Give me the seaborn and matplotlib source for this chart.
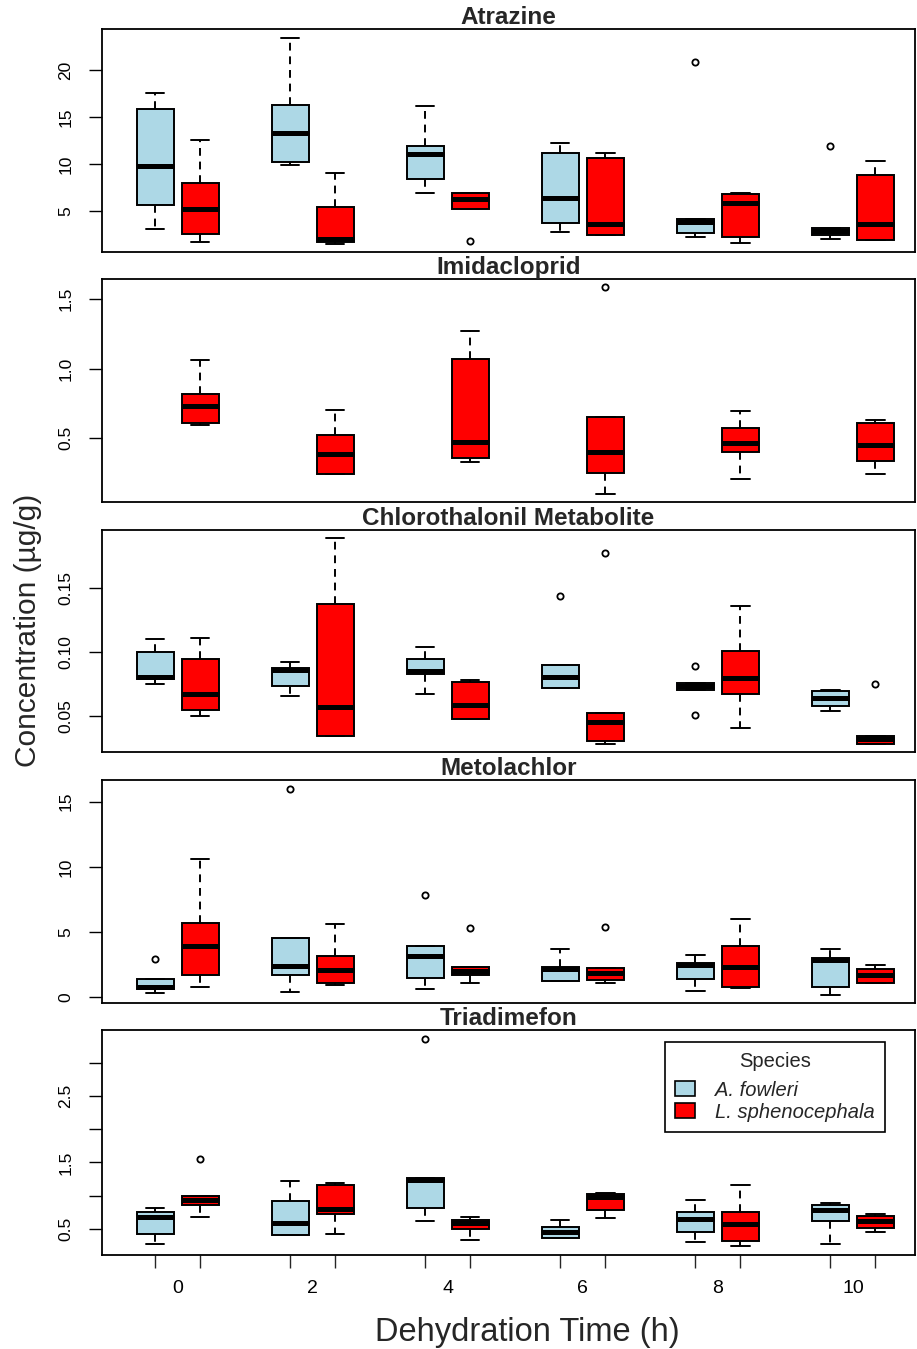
import numpy as np
import pandas as pd
import seaborn as sns
from matplotlib import pyplot as plt

# dehydration times (h) and species
times = [0, 2, 4, 6, 8, 10]
species = ['A. fowleri', 'L. sphenocephala']
compounds = ['Atrazine', 'Imidacloprid', 'Chlorothalonil Metabolite', 'Metolachlor', 'Triadimefon']

# concentrations (ug/g), one list of samples per time
atrazine_fowleri = [
    [3.1, 4.4, 5.6, 7.9, 9.8, 12.6, 15.9, 16.8, 17.6],
    [9.9, 10.0, 10.2, 11.8, 13.3, 14.9, 16.3, 19.7, 23.4],
    [6.9, 7.6, 8.4, 10.2, 11.1, 11.5, 11.9, 13.8, 16.2],
    [2.8, 3.2, 3.7, 5.1, 6.4, 9.0, 11.2, 11.7, 12.2],
    [2.2, 2.5, 2.7, 3.4, 3.8, 4.0, 4.2, 4.2, 20.9],
    [2.0, 2.2, 2.4, 2.7, 2.9, 3.0, 3.2, 3.2, 11.9],
]
atrazine_spheno = [
    [1.7, 2.1, 2.6, 3.9, 5.25, 6.5, 8.0, 10.1, 12.5],
    [1.5, 1.6, 1.7, 1.9, 2.0, 3.6, 5.4, 7.1, 9.0],
    [1.8, 5.2, 5.2, 5.8, 6.3, 6.6, 6.95, 6.95, 6.95],
    [2.4, 2.45, 2.5, 3.0, 3.6, 7.2, 10.6, 10.9, 11.2],
    [1.6, 1.9, 2.2, 4.1, 5.8, 6.3, 6.8, 6.9, 6.95],
    [1.9, 1.9, 1.9, 2.7, 3.6, 6.1, 8.8, 9.6, 10.3],
]
imidacloprid_fowleri = [[], [], [], [], [], []]
imidacloprid_spheno = [
    [0.593, 0.60, 0.607, 0.67, 0.731, 0.78, 0.819, 0.94, 1.062],
    [0.245, 0.245, 0.245, 0.31, 0.388, 0.45, 0.521, 0.61, 0.705],
    [0.331, 0.345, 0.357, 0.41, 0.471, 0.78, 1.071, 1.17, 1.269],
    [0.102, 0.18, 0.248, 0.33, 0.405, 0.53, 0.652, 0.652, 1.583],
    [0.209, 0.31, 0.405, 0.43, 0.464, 0.52, 0.576, 0.64, 0.693],
    [0.245, 0.29, 0.338, 0.40, 0.452, 0.53, 0.607, 0.62, 0.633],
]
chloro_fowleri = [
    [0.0745, 0.077, 0.0787, 0.0796, 0.0805, 0.09, 0.0995, 0.105, 0.110],
    [0.0654, 0.069, 0.0732, 0.080, 0.086, 0.0868, 0.0875, 0.090, 0.0922],
    [0.0667, 0.075, 0.0823, 0.0838, 0.0852, 0.089, 0.094, 0.099, 0.1034],
    [0.0714, 0.0714, 0.0714, 0.076, 0.080, 0.085, 0.0896, 0.0896, 0.1438],
    [0.0508, 0.0703, 0.0703, 0.0716, 0.073, 0.0742, 0.0755, 0.0755, 0.0891],
    [0.0539, 0.0558, 0.0576, 0.061, 0.0641, 0.0667, 0.0693, 0.0695, 0.0698],
]
chloro_spheno = [
    [0.050, 0.052, 0.0547, 0.061, 0.0667, 0.080, 0.0943, 0.102, 0.1107],
    [0.0341, 0.0341, 0.0341, 0.045, 0.0566, 0.097, 0.1375, 0.163, 0.1886],
    [0.047, 0.047, 0.0474, 0.053, 0.0586, 0.067, 0.0761, 0.077, 0.0777],
    [0.0277, 0.029, 0.0302, 0.038, 0.0453, 0.049, 0.0521, 0.0521, 0.1773],
    [0.0404, 0.053, 0.0667, 0.073, 0.0792, 0.090, 0.1003, 0.118, 0.1357],
    [0.0277, 0.0277, 0.0277, 0.0297, 0.0316, 0.033, 0.0344, 0.0344, 0.075],
]
metolachlor_fowleri = [
    [0.31, 0.48, 0.64, 0.70, 0.77, 1.1, 1.41, 1.41, 2.9],
    [0.36, 1.0, 1.69, 2.0, 2.41, 3.5, 4.56, 4.56, 16.0],
    [0.61, 1.0, 1.43, 2.3, 3.15, 3.5, 3.9, 3.9, 7.8],
    [1.23, 1.23, 1.23, 1.7, 2.15, 2.25, 2.33, 3.0, 3.71],
    [0.44, 0.9, 1.38, 1.9, 2.43, 2.5, 2.58, 2.9, 3.23],
    [0.13, 0.45, 0.77, 1.8, 2.87, 2.95, 3.02, 3.4, 3.71],
]
metolachlor_spheno = [
    [0.74, 1.2, 1.69, 2.8, 3.94, 4.8, 5.68, 8.1, 10.6],
    [0.9, 1.0, 1.08, 1.6, 2.07, 2.6, 3.15, 4.4, 5.6],
    [1.05, 1.4, 1.69, 1.85, 2.02, 2.2, 2.33, 2.33, 5.28],
    [1.05, 1.15, 1.28, 1.6, 1.87, 2.0, 2.2, 2.2, 5.35],
    [0.69, 0.73, 0.77, 1.5, 2.3, 3.1, 3.94, 5.0, 5.99],
    [1.08, 1.08, 1.08, 1.4, 1.67, 1.9, 2.15, 2.3, 2.48],
]
triadimefon_fowleri = [
    [0.275, 0.35, 0.425, 0.55, 0.685, 0.72, 0.76, 0.78, 0.81],
    [0.405, 0.405, 0.405, 0.50, 0.59, 0.75, 0.916, 1.07, 1.216],
    [0.62, 0.72, 0.82, 1.03, 1.236, 1.25, 1.27, 1.27, 3.35],
    [0.365, 0.365, 0.365, 0.41, 0.45, 0.49, 0.53, 0.58, 0.635],
    [0.305, 0.38, 0.46, 0.55, 0.646, 0.70, 0.751, 0.84, 0.931],
    [0.275, 0.45, 0.62, 0.70, 0.785, 0.82, 0.86, 0.87, 0.886],
]
triadimefon_spheno = [
    [0.685, 0.77, 0.856, 0.89, 0.931, 0.96, 0.996, 0.996, 1.547],
    [0.42, 0.58, 0.73, 0.77, 0.805, 0.98, 1.16, 1.17, 1.19],
    [0.335, 0.42, 0.5, 0.54, 0.585, 0.61, 0.64, 0.66, 0.685],
    [0.67, 0.73, 0.79, 0.88, 0.976, 1.0, 1.03, 1.035, 1.04],
    [0.245, 0.28, 0.315, 0.44, 0.571, 0.66, 0.751, 0.96, 1.165],
    [0.46, 0.49, 0.52, 0.57, 0.62, 0.66, 0.695, 0.71, 0.72],
]

panel_data = [
    (atrazine_fowleri, atrazine_spheno),
    (imidacloprid_fowleri, imidacloprid_spheno),
    (chloro_fowleri, chloro_spheno),
    (metolachlor_fowleri, metolachlor_spheno),
    (triadimefon_fowleri, triadimefon_spheno),
]
y_limits = [(0.64, 24.36), (0.043, 1.643), (0.0216, 0.195), (-0.46, 16.67), (0.11, 3.49)]
y_ticks = [[5, 10, 15, 20], [0.5, 1.0, 1.5], [0.05, 0.10, 0.15], [0, 5, 10, 15],
           [0.5, 1.0, 1.5, 2.0, 2.5, 3.0]]
y_ticklabels = [['5', '10', '15', '20'], ['0.5', '1.0', '1.5'], ['0.05', '0.10', '0.15'],
                ['0', '5', '10', '15'], ['0.5', '', '1.5', '', '2.5', '']]

palette = {'A. fowleri': '#add8e6', 'L. sphenocephala': '#ff0000'}


def make_frame(fowleri, spheno):
    rows = []
    for sp, groups in zip(species, (fowleri, spheno)):
        for t, vals in zip(times, groups):
            for v in vals:
                rows.append({'time': t, 'species': sp, 'conc': v})
    return pd.DataFrame(rows)


sns.set_style('ticks')
plt.rcParams['font.family'] = ['Liberation Sans', 'DejaVu Sans']

W, H = 917, 1349
fig = plt.figure(figsize=(W / 100, H / 100), dpi=100)
tops = [29, 279, 530, 780, 1030]
bottoms = [252, 502, 752, 1003, 1255]
left_px, right_px = 102, 915

axes = []
for i, name in enumerate(compounds):
    ax = fig.add_axes([left_px / W, 1 - bottoms[i] / H,
                       (right_px - left_px) / W, (bottoms[i] - tops[i]) / H])
    df = make_frame(*panel_data[i])
    sns.boxplot(data=df, x='time', y='conc', hue='species', order=times,
                hue_order=species, palette=palette, saturation=1, dodge=True,
                width=0.667, gap=0.18, linecolor='black', linewidth=1.4,
                whis=1.5, ax=ax, legend=(i == 4),
                medianprops={'linewidth': 3.6, 'color': 'black'},
                whiskerprops={'linestyle': (0, (4, 3)), 'linewidth': 1.4},
                capprops={'linewidth': 1.4},
                flierprops={'marker': 'o', 'markerfacecolor': 'none',
                            'markeredgecolor': 'black', 'markersize': 4.5,
                            'markeredgewidth': 1.3})
    ax.set_xlim(-0.56, 5.46)
    ax.set_ylim(*y_limits[i])
    ax.set_yticks(y_ticks[i])
    ax.set_yticklabels(y_ticklabels[i], rotation=90, va='center')
    ax.tick_params(axis='y', length=9.5, width=1.0, pad=11, labelsize=12.5, colors='black')
    for s in ax.spines.values():
        s.set_visible(True)
        s.set_color('black')
        s.set_linewidth(1.3)
    ax.set_xlabel('')
    ax.set_ylabel('')
    ax.set_title(name, fontsize=17.5, fontweight='bold', pad=1.0)
    if i < 4:
        ax.set_xticks([])
    else:
        ax.set_xticks(range(len(times)))
        ax.set_xticklabels([str(t) for t in times])
        ax.set_xticks([k + d for k in range(len(times)) for d in (-0.1667, 0.1667)], minor=True)
        ax.tick_params(axis='x', which='major', length=0, pad=18, labelsize=14, colors='black')
        ax.tick_params(axis='x', which='minor', length=9.5, width=1.0)
    axes.append(ax)

# legend in the last panel
ax = axes[4]
handles, labels = ax.get_legend_handles_labels()
leg = ax.legend(handles, labels, title='Species', loc='upper right',
                bbox_to_anchor=(0.963, 0.947), borderaxespad=0, frameon=True,
                fancybox=False, edgecolor='black', framealpha=1, handlelength=1.0,
                handleheight=0.8, handletextpad=1.0, borderpad=0.5, labelspacing=0.15,
                prop={'style': 'italic', 'size': 14.5})
leg.get_title().set_fontsize(14.5)
leg.get_frame().set_linewidth(1.2)
leg._legend_box.sep = 7
for h in leg.legend_handles:
    h.set_edgecolor('black')
    h.set_linewidth(1.2)

fig.text(28 / W, 1 - 630 / H, 'Concentration (\u00b5g/g)', rotation=90,
         ha='center', va='center', fontsize=21.5)
fig.text(527 / W, 1 - 1333 / H, 'Dehydration Time (h)', ha='center', va='center',
         fontsize=23.5)

plt.savefig('out.png', dpi=100)
